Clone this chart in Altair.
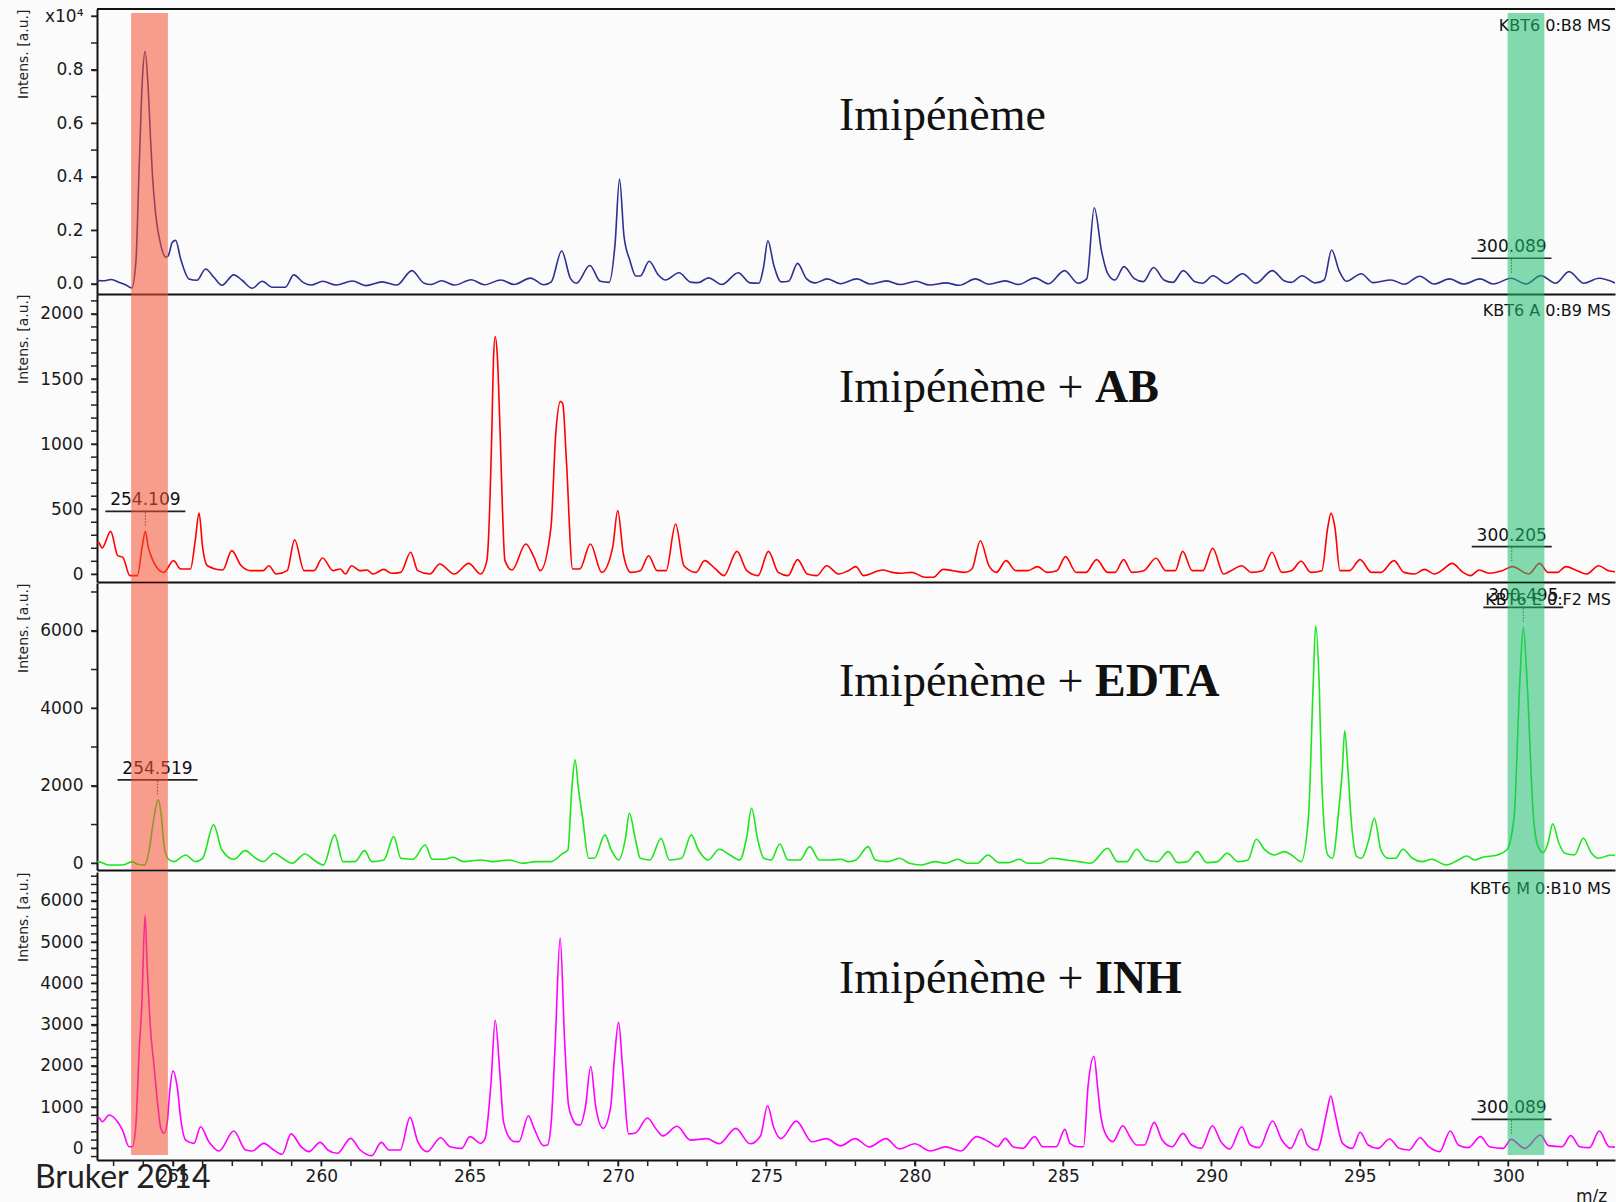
import altair as alt
import pandas as pd

# ---------------- data ----------------
p1_mz = [252.45, 252.51, 252.70, 252.92, 253.19, 253.40, 253.61, 253.75, 253.86, 253.97, 254.06, 254.16,
         254.25, 254.31, 254.42, 254.59, 254.76, 254.83, 254.98, 255.09, 255.26, 255.54, 255.81, 256.10,
         256.38, 256.65, 257.05, 257.33, 257.67, 258.01, 258.34, 258.79, 259.07, 259.40, 259.65, 260.05,
         260.50, 261.05, 261.50, 262.05, 262.55, 263.05, 263.45, 263.70, 264.05, 264.50, 265.05, 265.50,
         266.05, 266.50, 267.05, 267.50, 267.75, 268.10, 268.40, 268.60, 269.05, 269.40, 269.70, 269.90,
         270.05, 270.20, 270.40, 270.60, 270.75, 271.05, 271.35, 271.60, 272.05, 272.45, 272.70, 273.05,
         273.50, 274.05, 274.45, 274.75, 274.90, 275.05, 275.25, 275.50, 275.75, 276.05, 276.35, 276.65,
         277.05, 277.50, 278.05, 278.50, 279.05, 279.50, 280.05, 280.50, 281.05, 281.50, 282.05, 282.50,
         283.05, 283.50, 284.05, 284.50, 285.05, 285.50, 285.80, 286.05, 286.30, 286.50, 286.75, 287.05,
         287.40, 287.70, 288.05, 288.40, 288.70, 289.05, 289.45, 289.70, 290.05, 290.50, 291.05, 291.50,
         292.05, 292.45, 292.70, 293.05, 293.50, 293.80, 294.05, 294.30, 294.55, 295.05, 295.45, 296.05,
         296.50, 297.02, 297.50, 298.02, 298.50, 299.05, 299.50, 300.10, 300.60, 301.10, 301.60, 302.05,
         302.55, 303.06, 303.60]
p1_int = [100, 125, 120, 170, 60, -30, -150, 811, 4300, 7660, 8690, 7420,
          5300, 4050, 2570, 1450, 1000, 1035, 1560, 1630, 935, 190, 140, 560,
          250, -50, 340, 140, -160, 100, -120, -120, 340, 50, -40, 100,
          -40, 110, -60, 80, -40, 500, 40, -20, 120, -40, 160, -30,
          150, -20, 220, -30, 80, 1230, 200, 30, 690, 100, 60, 1500,
          3920, 1800, 880, 300, 300, 850, 350, 150, 420, 70, 50, 230,
          -20, 420, 40, 30, 600, 1615, 700, 80, 100, 770, 200, 40,
          190, 10, 190, 0, 115, -20, 100, -40, 40, -50, 190, -10,
          115, -20, 230, 10, 500, 30, 200, 2846, 1200, 400, 150, 650,
          200, 90, 615, 150, 60, 500, 80, 30, 310, 20, 385, 30,
          500, 120, 60, 310, 40, 150, 1270, 500, 100, 385, 50, 150,
          -10, 290, 0, 190, 0, 190, 0, 213, 0, 314, 30, 460,
          30, 213, 40]

p2_mz = [252.45, 252.49, 252.61, 252.90, 253.14, 253.31, 253.55, 253.80, 253.96, 254.07, 254.17, 254.28,
         254.45, 254.69, 255.02, 255.26, 255.59, 255.75, 255.88, 256.00, 256.16, 256.68, 256.98, 257.30,
         257.63, 258.04, 258.23, 258.48, 258.85, 259.10, 259.42, 259.75, 260.04, 260.40, 260.64, 260.81,
         261.02, 261.30, 261.54, 261.74, 262.11, 262.36, 262.68, 263.01, 263.25, 263.66, 263.99, 264.48,
         264.97, 265.37, 265.58, 265.75, 265.80, 265.86, 265.94, 266.02, 266.19, 266.43, 266.89, 267.17,
         267.38, 267.74, 267.90, 268.06, 268.14, 268.26, 268.47, 268.71, 269.07, 269.45, 269.82, 269.99,
         270.18, 270.43, 270.75, 271.03, 271.32, 271.62, 271.94, 272.22, 272.63, 272.92, 273.28, 273.57,
         274.01, 274.34, 274.72, 275.07, 275.40, 275.73, 276.05, 276.38, 276.70, 277.03, 277.44, 277.76,
         278.02, 278.27, 278.92, 279.24, 279.57, 279.90, 280.35, 280.63, 280.96, 281.28, 281.69, 281.93,
         282.21, 282.50, 282.75, 283.08, 283.40, 283.81, 284.14, 284.46, 284.79, 285.08, 285.44, 285.77,
         286.13, 286.50, 286.75, 287.04, 287.32, 287.72, 288.13, 288.46, 288.78, 289.03, 289.35, 289.71,
         290.04, 290.41, 290.66, 291.02, 291.34, 291.72, 292.04, 292.37, 292.70, 293.02, 293.35, 293.72,
         293.92, 294.03, 294.16, 294.33, 294.65, 295.01, 295.39, 295.71, 296.15, 296.49, 296.85, 297.18,
         297.51, 297.75, 298.11, 298.48, 298.73, 299.02, 299.38, 299.79, 300.15, 300.69, 301.06, 301.34,
         301.66, 301.94, 302.32, 302.64, 303.05, 303.38, 303.60]
p2_int = [240, 246, 202, 330, 143, 130, -10, -10, 207, 330, 207, 130,
          54, 15, 105, 41, 41, 258, 470, 207, 66, 33, 182, 66,
          28, 28, 66, 2, 28, 266, 28, 28, 125, 28, 41, 2,
          66, 28, 33, 2, 38, 8, 15, 169, 28, 2, 79, 2,
          84, 2, 105, 1128, 1642, 1826, 1642, 1128, 105, 33, 233, 130,
          28, 361, 1077, 1328, 1307, 872, 41, 41, 233, 15, 207, 489,
          156, 15, 28, 143, 28, 28, 386, 66, 15, 105, 41, -10,
          176, 28, -10, 176, 15, -10, 113, 2, -10, 66, 2, 28,
          59, -10, 33, 15, 8, 15, -23, -23, 38, 28, 15, 41,
          258, 66, 15, 105, 28, 28, 59, 15, 28, 136, 15, 15,
          113, 15, 15, 113, 15, 28, 123, 28, 28, 176, 28, 28,
          200, 2, 28, 66, 15, 28, 169, 15, 28, 100, 15, 28,
          361, 470, 361, 28, 28, 113, 15, 15, 105, 15, 2, 38,
          2, 28, 84, 15, -10, 33, 8, 28, 59, 2, 84, 15,
          15, 59, 28, 2, 66, 28, 20]

p3_mz = [252.45, 252.49, 252.82, 253.31, 253.63, 253.80, 254.04, 254.20, 254.33, 254.50, 254.61, 254.69,
         254.82, 255.02, 255.43, 255.75, 256.00, 256.37, 256.65, 257.06, 257.43, 257.79, 258.04, 258.41,
         258.69, 259.01, 259.45, 259.75, 260.07, 260.45, 260.73, 261.13, 261.46, 261.70, 262.11, 262.44,
         262.68, 263.09, 263.50, 263.74, 264.15, 264.44, 264.80, 265.37, 265.78, 266.35, 266.76, 267.25,
         267.74, 268.14, 268.31, 268.44, 268.55, 268.67, 268.80, 269.01, 269.20, 269.56, 269.77, 270.02,
         270.26, 270.38, 270.59, 270.75, 271.08, 271.45, 271.73, 272.14, 272.47, 272.71, 273.04, 273.41,
         273.77, 274.10, 274.34, 274.50, 274.71, 274.91, 275.16, 275.45, 275.73, 276.13, 276.46, 276.79,
         277.19, 277.52, 277.76, 278.02, 278.43, 278.67, 279.08, 279.49, 279.82, 280.22, 280.68, 281.04,
         281.45, 281.77, 282.10, 282.47, 282.83, 283.16, 283.52, 283.81, 284.22, 284.59, 285.11, 285.52,
         285.93, 286.50, 286.83, 287.15, 287.48, 287.80, 288.18, 288.54, 288.86, 289.19, 289.52, 289.84,
         290.20, 290.53, 290.90, 291.23, 291.51, 291.80, 292.13, 292.45, 292.70, 293.02, 293.27, 293.43,
         293.51, 293.63, 293.72, 293.92, 294.08, 294.29, 294.41, 294.49, 294.60, 294.70, 294.90, 295.06,
         295.30, 295.49, 295.71, 295.96, 296.20, 296.45, 296.77, 297.10, 297.42, 297.91, 298.32, 298.61,
         298.86, 299.14, 299.63, 299.95, 300.20, 300.39, 300.51, 300.64, 300.85, 301.01, 301.18, 301.34,
         301.50, 301.71, 301.91, 302.24, 302.53, 302.81, 303.05, 303.46, 303.60]
p3_int = [43, 43, -43, -43, 43, -26, -43, 344, 1033, 1636, 1205, 517,
          129, 43, 215, 43, 129, 990, 344, 103, 327, 129, 43, 258,
          129, 0, 241, 86, -43, 732, 43, 43, 327, 43, 86, 689,
          129, 103, 473, 103, 103, 155, 43, 86, 43, 86, 0, 43,
          43, 258, 344, 1894, 2669, 1894, 1205, 129, 129, 732, 344, 86,
          689, 1291, 603, 129, 86, 646, 86, 129, 732, 344, 86, 362,
          215, 86, 689, 1420, 603, 129, 86, 499, 86, 86, 430, 86,
          86, 103, 43, 86, 430, 86, 43, 129, 0, -43, 43, 0,
          103, 0, 0, 215, 17, 17, 103, 0, 0, 129, 86, 43,
          0, 387, 43, 43, 362, 86, 43, 301, 17, 43, 301, 17,
          43, 258, 43, 86, 620, 344, 215, 301, 215, 43, 1205, 4649,
          6130, 4649, 2066, 215, 129, 1377, 2410, 3418, 2410, 1205, 172, 129,
          603, 1162, 344, 129, 129, 362, 129, 43, 103, -43, 86, 189,
          86, 155, 215, 344, 1205, 4649, 6087, 4649, 1205, 430, 275, 517,
          1016, 517, 258, 215, 646, 258, 129, 215, 200]

p4_mz = [252.45, 252.51, 252.62, 252.85, 253.13, 253.30, 253.52, 253.63, 253.75, 253.86, 253.95, 254.06,
         254.13, 254.25, 254.36, 254.50, 254.59, 254.70, 254.81, 254.89, 255.00, 255.15, 255.26, 255.43,
         255.71, 255.93, 256.21, 256.55, 257.05, 257.45, 257.67, 258.06, 258.40, 258.68, 258.98, 259.32,
         259.58, 259.96, 260.22, 260.54, 260.99, 261.31, 261.70, 262.02, 262.28, 262.66, 262.99, 263.25,
         263.57, 264.02, 264.34, 264.73, 265.01, 265.37, 265.52, 265.72, 265.86, 266.02, 266.14, 266.40,
         266.53, 266.66, 266.98, 267.17, 267.49, 267.62, 267.75, 267.88, 268.05, 268.20, 268.33, 268.46,
         268.59, 268.72, 268.90, 269.08, 269.25, 269.50, 269.75, 269.88, 270.02, 270.15, 270.36, 270.60,
         270.99, 271.30, 271.51, 271.99, 272.44, 273.00, 273.41, 273.97, 274.45, 274.80, 275.04, 275.25,
         275.49, 276.01, 276.53, 277.02, 277.50, 277.99, 278.47, 279.03, 279.48, 280.00, 280.52, 281.04,
         281.56, 282.08, 282.50, 282.79, 283.05, 283.31, 283.64, 284.04, 284.31, 284.77, 285.06, 285.23,
         285.49, 285.69, 285.84, 286.04, 286.16, 286.25, 286.42, 286.68, 287.01, 287.28, 287.48, 287.74,
         288.07, 288.34, 288.67, 289.04, 289.33, 289.66, 290.03, 290.32, 290.62, 291.02, 291.31, 291.61,
         292.06, 292.37, 292.67, 293.03, 293.23, 293.56, 293.89, 294.02, 294.15, 294.42, 294.75, 295.01,
         295.28, 295.61, 296.00, 296.33, 296.66, 297.03, 297.32, 297.69, 298.05, 298.32, 298.65, 299.07,
         299.37, 299.83, 300.10, 300.56, 301.09, 301.36, 301.82, 302.11, 302.41, 302.74, 303.07, 303.40,
         303.60]
p4_int = [760, 741, 645, 807, 645, 443, 39, 39, 565, 2340, 3472, 5653,
          4441, 2826, 2018, 969, 485, 363, 645, 1371, 1873, 1454, 727, 201,
          121, 523, 160, -65, 419, -41, -65, 121, -41, -145, 350, 40,
          -81, 145, -40, -121, 242, -40, -178, 145, -40, -40, 751, 162,
          -81, 258, 40, 0, 283, 121, 242, 1600, 3106, 1800, 646, 202,
          162, 162, 792, 485, 65, 81, 646, 2500, 5104, 2600, 1050, 727,
          581, 565, 1000, 1983, 1000, 484, 1000, 2200, 3056, 2000, 350, 380,
          734, 450, 300, 534, 200, 235, 110, 485, 110, 300, 1034, 500,
          235, 659, 160, 235, 60, 235, 35, 235, -15, 110, -65, 35,
          -65, 285, 160, 40, 242, 40, 0, 283, 40, 40, 460, 121,
          40, 40, 1500, 2230, 1500, 888, 363, 162, 549, 242, 81, 81,
          630, 202, 40, 363, 81, 0, 549, 162, -16, 525, 81, 16,
          662, 202, 0, 468, 81, -40, 888, 1276, 888, 121, 0, 388,
          81, 0, 226, 0, -40, 258, 40, -81, 420, 81, 16, 283,
          40, 0, 218, 0, 323, 65, 40, 307, 40, 16, 420, 40,
          30]

# peak annotations
p1_lab_mz, p1_lab_int, p1_lab_txt = [300.11], [213], ["300.089"]
p2_lab_mz, p2_lab_int, p2_lab_txt = [254.07, 300.12], [330, 59], ["254.109", "300.205"]
p3_lab_mz, p3_lab_int, p3_lab_txt = [254.48, 300.51], [1636, 6087], ["254.519", "300.495"]
p4_lab_mz, p4_lab_int, p4_lab_txt = [300.11], [218], ["300.089"]

# highlighted m/z windows
band_start = [253.59, 299.98]
band_end = [254.83, 301.22]
band_color = ["#F5502F", "#1EBE6E"]

# axis ticks (labelled ticks and all minor ticks)
x_major = [255, 260, 265, 270, 275, 280, 285, 290, 295, 300]
x_minor = list(range(253, 304))
p1_major, p1_minor = list(range(0, 10001, 2000)), list(range(0, 10001, 1000))
p2_major, p2_minor = list(range(0, 2001, 500)), list(range(0, 2101, 100))
p3_major, p3_minor = list(range(0, 6001, 2000)), list(range(0, 7001, 1000))
p4_major, p4_minor = list(range(0, 6001, 1000)), list(range(-200, 6601, 200))

titles = ["Imipénème", "Imipénème + ", "Imipénème + ", "Imipénème + "]
titles_bold = ["", "AB", "EDTA", "INH"]
samples = ["KBT6 0:B8 MS", "KBT6 A 0:B9 MS", "KBT6 E 0:F2 MS", "KBT6 M 0:B10 MS"]

# ---------------- chart ----------------
W = 1518
x_scale = alt.Scale(domain=[252.44, 303.6], nice=False, zero=False)
LABEL_FONT = "DejaVu Sans"
TICK = 6


def y_axis(ticks, expr):
    return alt.Axis(values=ticks, labelExpr=expr, labelOverlap=False, grid=False,
                    labelFont=LABEL_FONT, labelFontSize=17, labelColor="#1a1a1a",
                    labelPadding=8, tickSize=TICK, tickWidth=1.5, tickColor="#222222",
                    domainColor="#111111", domainWidth=2,
                    title="Intens. [a.u.]", titleFont=LABEL_FONT, titleFontSize=14,
                    titleFontWeight="normal", titleColor="#222222", titleAngle=270,
                    titleX=-74, titleY=0, titleAlign="right", titleBaseline="middle")


def x_axis(bottom):
    if bottom:
        return alt.Axis(values=x_major, format="d", labelOverlap=False, labelFlush=False, grid=False,
                        labelFont=LABEL_FONT, labelFontSize=17, labelColor="#1a1a1a", labelPadding=2,
                        tickSize=TICK, tickWidth=1.5, tickColor="#222222",
                        domainColor="#111111", domainWidth=2, title="")
    return alt.Axis(labels=False, ticks=False, grid=False, domainColor="#111111",
                    domainWidth=2, title="")


def panel(mz, inten, color, ydom, h, major, minor, expr, bottom, band_y, band_y2,
          idx, title_y, lab_mz, lab_int, lab_txt, extra=None):
    y_scale = alt.Scale(domain=ydom, nice=False, zero=False)
    df = pd.DataFrame({"mz": mz, "I": inten})
    line = alt.Chart(df).mark_line(color=color, strokeWidth=1.6, interpolate="monotone",
                                   clip=True).encode(
        x=alt.X("mz:Q", scale=x_scale, axis=x_axis(bottom)),
        y=alt.Y("I:Q", scale=y_scale, axis=y_axis(major, expr)))

    ymin = alt.Chart(pd.DataFrame({"I": minor})).mark_rule(color="#222222", strokeWidth=1.5).encode(
        y=alt.Y("I:Q", scale=y_scale), x=alt.value(-TICK), x2=alt.value(0))

    lab = pd.DataFrame({"mz": lab_mz, "I": lab_int, "t": lab_txt})
    lab_text = alt.Chart(lab).mark_text(font=LABEL_FONT, fontSize=17, color="#111111",
                                        baseline="middle", yOffset=-31).encode(
        x=alt.X("mz:Q", scale=x_scale), y=alt.Y("I:Q", scale=y_scale), text="t:N")
    lab_under = alt.Chart(lab).mark_rule(color="#222222", strokeWidth=1.6, xOffset=-40,
                                         x2Offset=40, yOffset=-20).encode(
        x=alt.X("mz:Q", scale=x_scale), x2="mz", y=alt.Y("I:Q", scale=y_scale))
    lab_dot = alt.Chart(lab).mark_rule(color="#333333", strokeWidth=1, strokeDash=[1.5, 1.5],
                                       yOffset=-19, y2Offset=-5).encode(
        x=alt.X("mz:Q", scale=x_scale), y=alt.Y("I:Q", scale=y_scale), y2="I")

    bands = pd.DataFrame({"mz": band_start, "mz2": band_end, "c": band_color})
    band = alt.Chart(bands).mark_rect(opacity=0.55).encode(
        x=alt.X("mz:Q", scale=x_scale), x2="mz2",
        y=alt.value(band_y), y2=alt.value(band_y2),
        color=alt.Color("c:N", scale=None))

    t1 = alt.Chart(pd.DataFrame({"t": [titles[idx]]})).mark_text(
        font="Liberation Serif", fontSize=46, align="left", baseline="alphabetic",
        color="#111111").encode(x=alt.value(742), y=alt.value(title_y), text="t:N")
    layers = [line, ymin, lab_text, lab_under, lab_dot, t1]
    if titles_bold[idx]:
        t2 = alt.Chart(pd.DataFrame({"t": [titles_bold[idx]]})).mark_text(
            font="Liberation Serif", fontSize=46, fontWeight="bold", align="left",
            baseline="alphabetic", color="#111111").encode(
            x=alt.value(998), y=alt.value(title_y), text="t:N")
        layers.append(t2)
    samp = alt.Chart(pd.DataFrame({"t": [samples[idx]]})).mark_text(
        font=LABEL_FONT, fontSize=16, align="right", baseline="middle",
        color="#111111").encode(x=alt.value(W - 4), y=alt.value(17), text="t:N")
    layers.append(samp)
    if bottom:
        xmin = alt.Chart(pd.DataFrame({"mz": x_minor})).mark_rule(
            color="#222222", strokeWidth=1.5).encode(
            x=alt.X("mz:Q", scale=x_scale), y=alt.value(h), y2=alt.value(h + TICK))
        layers.append(xmin)
    if extra:
        layers.extend(extra)
    layers.append(band)
    return alt.layer(*layers).properties(width=W, height=h)


H = [285, 288, 287, 288]

top_line = alt.Chart(pd.DataFrame({"a": [0]})).mark_rule(color="#111111", strokeWidth=2).encode(
    x=alt.value(0), x2=alt.value(W), y=alt.value(0))
bruker = alt.Chart(pd.DataFrame({"t": ["Bruker 2014"]})).mark_text(
    font="Lato", fontSize=32, align="left", baseline="middle", color="#222222").encode(
    x=alt.value(-62), y=alt.value(H[3] + 18), text="t:N")
mz_title = alt.Chart(pd.DataFrame({"t": ["m/z"]})).mark_text(
    font=LABEL_FONT, fontSize=17, align="left", baseline="middle", color="#1a1a1a").encode(
    x=alt.value(1479), y=alt.value(H[3] + 37), text="t:N")

c1 = panel(p1_mz, p1_int, "#2D3091", [-374, 10269], H[0], p1_major, p1_minor,
           "datum.value == 10000 ? 'x10⁴' : format(datum.value / 10000, '.1f')",
           False, 4, H[0], 0, 121, p1_lab_mz, p1_lab_int, p1_lab_txt, extra=[top_line])
c2 = panel(p2_mz, p2_int, "#FF0000", [-59, 2153], H[1], p2_major, p2_minor,
           "format(datum.value, 'd')",
           False, 0, H[1], 1, 108, p2_lab_mz, p2_lab_int, p2_lab_txt)
c3 = panel(p3_mz, p3_int, "#1DE61D", [-173, 7232], H[2], p3_major, p3_minor,
           "format(datum.value, 'd')",
           False, 0, H[2], 2, 113, p3_lab_mz, p3_lab_int, p3_lab_txt)
c4 = panel(p4_mz, p4_int, "#FF00FF", [-283, 6702], H[3], p4_major, p4_minor,
           "format(datum.value, 'd')",
           True, 0, H[3] - 5, 3, 121, p4_lab_mz, p4_lab_int, p4_lab_txt,
           extra=[bruker, mz_title])

chart = alt.vconcat(c1, c2, c3, c4, spacing=0).properties(
    background="#FBFBFB",
    padding={"left": 16, "top": 7, "right": 0, "bottom": 0},
).configure_view(strokeWidth=0)

chart.save("out.html", embed_options={"renderer": "svg", "actions": False})
